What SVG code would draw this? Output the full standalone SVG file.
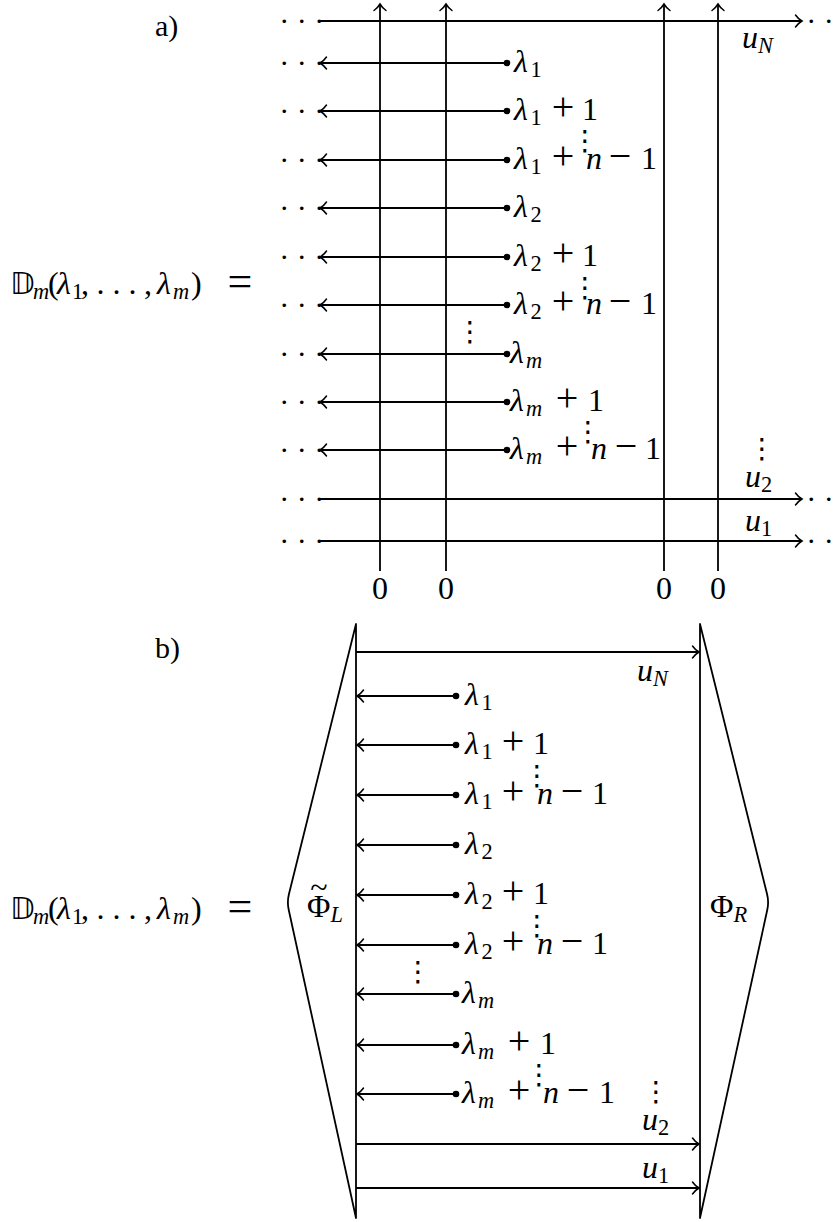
<svg xmlns="http://www.w3.org/2000/svg" width="840" height="1222" viewBox="0 0 840 1222" font-family="'Liberation Serif', 'Times New Roman', Times, serif">
<style>
.ln{stroke:#000;stroke-width:1.8;fill:none}
.br{stroke:#000;stroke-width:1.8;fill:none;stroke-linejoin:round}
.m{font-family:'Liberation Serif','Times New Roman',Times,serif;font-size:32px;fill:#000}
.i{font-style:italic}
.s{font-size:22.4px}
.op{font-size:40px}
.bb{font-family:'DejaVu Sans',sans-serif;font-size:30px;font-style:normal}
.hd{font-family:'Liberation Serif','Times New Roman',serif;font-size:30px;fill:#000}
.vd{font-family:'DejaVu Sans',sans-serif;font-size:28px;fill:#000;text-anchor:middle}
.z{text-anchor:middle}
.lab{font-family:'Liberation Serif','Times New Roman',serif;font-size:30px;fill:#000}
</style>
<defs>
<marker id="ah" viewBox="-8 -7 10 14" refX="0" refY="0" markerWidth="10" markerHeight="14" markerUnits="userSpaceOnUse" orient="auto" overflow="visible">
<path d="M-6.5,-6 C-4.5,-3 -1.5,-0.9 0,0 C-1.5,0.9 -4.5,3 -6.5,6" fill="none" stroke="#000" stroke-width="1.5" stroke-linecap="round"/>
</marker>
</defs>
<rect width="840" height="1222" fill="#fff"/>

<!-- ===== Panel a ===== -->
<g id="panel-a">
<g id="a-title"><text class="lab" x="155" y="36">a)</text></g>
<g id="a-equation"><text class="m" y="294"><tspan class="bb" x="10">𝔻</tspan><tspan class="i s" x="33" dy="5">m</tspan><tspan x="48" dy="-5">(</tspan><tspan class="i" x="57">λ</tspan><tspan class="s" x="72" dy="5">1</tspan><tspan x="81" dy="-5">,</tspan><tspan x="96.5">. . .</tspan><tspan x="144">,</tspan><tspan class="i" x="157">λ</tspan><tspan class="i s" x="173" dy="5">m</tspan><tspan x="191" dy="-5">)</tspan><tspan x="227.6" y="296" font-size="44">=</tspan></text></g>

<g id="a-connectors">
<line class="ln" x1="380" y1="571" x2="380" y2="4" marker-end="url(#ah)"/>
<line class="ln" x1="446" y1="571" x2="446" y2="4" marker-end="url(#ah)"/>
<line class="ln" x1="664" y1="571" x2="664" y2="4" marker-end="url(#ah)"/>
<line class="ln" x1="718" y1="571" x2="718" y2="4" marker-end="url(#ah)"/>
<line class="ln" x1="320" y1="21" x2="802" y2="21" marker-end="url(#ah)"/>
<line class="ln" x1="320" y1="499" x2="802" y2="499" marker-end="url(#ah)"/>
<line class="ln" x1="320" y1="541" x2="802" y2="541" marker-end="url(#ah)"/>
<line class="ln" x1="507" y1="63" x2="320" y2="63" marker-end="url(#ah)"/>
<line class="ln" x1="507" y1="111" x2="320" y2="111" marker-end="url(#ah)"/>
<line class="ln" x1="507" y1="160" x2="320" y2="160" marker-end="url(#ah)"/>
<line class="ln" x1="507" y1="208" x2="320" y2="208" marker-end="url(#ah)"/>
<line class="ln" x1="507" y1="257" x2="320" y2="257" marker-end="url(#ah)"/>
<line class="ln" x1="507" y1="305" x2="320" y2="305" marker-end="url(#ah)"/>
<line class="ln" x1="507" y1="354" x2="320" y2="354" marker-end="url(#ah)"/>
<line class="ln" x1="507" y1="402" x2="320" y2="402" marker-end="url(#ah)"/>
<line class="ln" x1="507" y1="450" x2="320" y2="450" marker-end="url(#ah)"/>
<g fill="#000">
<circle cx="507" cy="63" r="3.3"/><circle cx="507" cy="111" r="3.3"/><circle cx="507" cy="160" r="3.3"/>
<circle cx="507" cy="208" r="3.3"/><circle cx="507" cy="257" r="3.3"/><circle cx="507" cy="305" r="3.3"/>
<circle cx="507" cy="354" r="3.3"/><circle cx="507" cy="402" r="3.3"/><circle cx="507" cy="450" r="3.3"/>
</g>
</g>

<g id="a-dots">
<text class="hd" x="279.25" y="30.5">· · ·</text>
<text class="hd" x="279.25" y="72.5">· · ·</text>
<text class="hd" x="279.25" y="120.5">· · ·</text>
<text class="hd" x="279.25" y="169.5">· · ·</text>
<text class="hd" x="279.25" y="217.5">· · ·</text>
<text class="hd" x="279.25" y="266.5">· · ·</text>
<text class="hd" x="279.25" y="314.5">· · ·</text>
<text class="hd" x="279.25" y="363.5">· · ·</text>
<text class="hd" x="279.25" y="411.5">· · ·</text>
<text class="hd" x="279.25" y="459.5">· · ·</text>
<text class="hd" x="279.25" y="508.5">· · ·</text>
<text class="hd" x="279.25" y="550.5">· · ·</text>
<text class="hd" x="806.25" y="30.5">· · ·</text>
<text class="hd" x="806.25" y="508.5">· · ·</text>
<text class="hd" x="806.25" y="550.5">· · ·</text>
<text class="vd" x="585" y="150">⋮</text>
<text class="vd" x="585" y="297">⋮</text>
<text class="vd" x="588" y="441">⋮</text>
<text class="vd" x="470" y="341">⋮</text>
<text class="vd" x="762" y="458">⋮</text>
</g>

<g id="a-labels">
<text class="m" y="72"><tspan class="i" x="514">λ</tspan><tspan class="s" x="530.4" dy="5">1</tspan></text>
<text class="m" y="120"><tspan class="i" x="514">λ</tspan><tspan class="s" x="530.4" dy="5">1</tspan><tspan class="op" x="551.7" dy="-5">+</tspan><tspan x="582">1</tspan></text>
<text class="m" y="169"><tspan class="i" x="514">λ</tspan><tspan class="s" x="530.4" dy="5">1</tspan><tspan class="op" x="551.7" dy="-5">+</tspan><tspan class="i" x="586">n</tspan><tspan class="op" x="608.7">−</tspan><tspan x="641">1</tspan></text>
<text class="m" y="217"><tspan class="i" x="514">λ</tspan><tspan class="s" x="530.4" dy="5">2</tspan></text>
<text class="m" y="266"><tspan class="i" x="514">λ</tspan><tspan class="s" x="530.4" dy="5">2</tspan><tspan class="op" x="551.7" dy="-5">+</tspan><tspan x="582">1</tspan></text>
<text class="m" y="314"><tspan class="i" x="514">λ</tspan><tspan class="s" x="530.4" dy="5">2</tspan><tspan class="op" x="551.7" dy="-5">+</tspan><tspan class="i" x="586">n</tspan><tspan class="op" x="608.7">−</tspan><tspan x="641">1</tspan></text>
<text class="m" y="363"><tspan class="i" x="510">λ</tspan><tspan class="i s" x="526" dy="5">m</tspan></text>
<text class="m" y="411"><tspan class="i" x="510">λ</tspan><tspan class="i s" x="526" dy="5">m</tspan><tspan class="op" x="555.7" dy="-5">+</tspan><tspan x="588">1</tspan></text>
<text class="m" y="459"><tspan class="i" x="510">λ</tspan><tspan class="i s" x="526" dy="5">m</tspan><tspan class="op" x="555.7" dy="-5">+</tspan><tspan class="i" x="591">n</tspan><tspan class="op" x="614.7">−</tspan><tspan x="645">1</tspan></text>
<text class="m" x="742" y="48"><tspan class="i">u</tspan><tspan class="i s" dy="5">N</tspan></text>
<text class="m" x="745" y="487"><tspan class="i">u</tspan><tspan class="s" dy="5">2</tspan></text>
<text class="m" x="745" y="531"><tspan class="i">u</tspan><tspan class="s" dy="5">1</tspan></text>
<text class="m z" x="380" y="599">0</text>
<text class="m z" x="446" y="599">0</text>
<text class="m z" x="664" y="599">0</text>
<text class="m z" x="718" y="599">0</text>
</g>
</g>

<!-- ===== Panel b ===== -->
<g id="panel-b">
<g id="b-title"><text class="lab" x="155" y="658">b)</text></g>
<g id="b-equation"><text class="m" y="919"><tspan class="bb" x="10">𝔻</tspan><tspan class="i s" x="33" dy="5">m</tspan><tspan x="48" dy="-5">(</tspan><tspan class="i" x="57">λ</tspan><tspan class="s" x="72" dy="5">1</tspan><tspan x="81" dy="-5">,</tspan><tspan x="96.5">. . .</tspan><tspan x="144">,</tspan><tspan class="i" x="157">λ</tspan><tspan class="i s" x="173" dy="5">m</tspan><tspan x="191" dy="-5">)</tspan><tspan x="227.6" y="921" font-size="44">=</tspan></text></g>

<g id="phi-L">
<path class="br" d="M356,1218 L356,624 L288.9,894.2 Q287,902 288.7,909.8 Z"/>
<text class="m" x="319" y="898" text-anchor="middle" font-size="26">~</text>
<text class="m" x="307" y="917">Φ<tspan class="i s" dy="5">L</tspan></text>
</g>
<g id="phi-R">
<path class="br" d="M700,1218 L700,624 L767.1,894.2 Q769,902 767.3,909.8 Z"/>
<text class="m" x="710" y="917">Φ<tspan class="i s" dy="5">R</tspan></text>
</g>

<g id="b-connectors">
<line class="ln" x1="356" y1="652" x2="699" y2="652" marker-end="url(#ah)"/>
<line class="ln" x1="356" y1="1144" x2="699" y2="1144" marker-end="url(#ah)"/>
<line class="ln" x1="356" y1="1188" x2="699" y2="1188" marker-end="url(#ah)"/>
<line class="ln" x1="456" y1="696" x2="357" y2="696" marker-end="url(#ah)"/>
<line class="ln" x1="456" y1="745" x2="357" y2="745" marker-end="url(#ah)"/>
<line class="ln" x1="456" y1="795" x2="357" y2="795" marker-end="url(#ah)"/>
<line class="ln" x1="456" y1="845" x2="357" y2="845" marker-end="url(#ah)"/>
<line class="ln" x1="456" y1="895" x2="357" y2="895" marker-end="url(#ah)"/>
<line class="ln" x1="456" y1="945" x2="357" y2="945" marker-end="url(#ah)"/>
<line class="ln" x1="456" y1="994" x2="357" y2="994" marker-end="url(#ah)"/>
<line class="ln" x1="456" y1="1045" x2="357" y2="1045" marker-end="url(#ah)"/>
<line class="ln" x1="456" y1="1094" x2="357" y2="1094" marker-end="url(#ah)"/>
<g fill="#000">
<circle cx="456" cy="696" r="3.3"/><circle cx="456" cy="745" r="3.3"/><circle cx="456" cy="795" r="3.3"/>
<circle cx="456" cy="845" r="3.3"/><circle cx="456" cy="895" r="3.3"/><circle cx="456" cy="945" r="3.3"/>
<circle cx="456" cy="994" r="3.3"/><circle cx="456" cy="1045" r="3.3"/><circle cx="456" cy="1094" r="3.3"/>
</g>
</g>

<g id="b-dots">
<text class="vd" x="537" y="785">⋮</text>
<text class="vd" x="537" y="935">⋮</text>
<text class="vd" x="539" y="1084">⋮</text>
<text class="vd" x="418" y="981">⋮</text>
<text class="vd" x="656" y="1101">⋮</text>
</g>

<g id="b-labels">
<text class="m" y="705"><tspan class="i" x="465">λ</tspan><tspan class="s" x="481.4" dy="5">1</tspan></text>
<text class="m" y="754"><tspan class="i" x="465">λ</tspan><tspan class="s" x="481.4" dy="5">1</tspan><tspan class="op" x="501.7" dy="-5">+</tspan><tspan x="533">1</tspan></text>
<text class="m" y="804"><tspan class="i" x="465">λ</tspan><tspan class="s" x="481.4" dy="5">1</tspan><tspan class="op" x="501.7" dy="-5">+</tspan><tspan class="i" x="537">n</tspan><tspan class="op" x="560.7">−</tspan><tspan x="592">1</tspan></text>
<text class="m" y="854"><tspan class="i" x="465">λ</tspan><tspan class="s" x="481.4" dy="5">2</tspan></text>
<text class="m" y="904"><tspan class="i" x="465">λ</tspan><tspan class="s" x="481.4" dy="5">2</tspan><tspan class="op" x="501.7" dy="-5">+</tspan><tspan x="533">1</tspan></text>
<text class="m" y="954"><tspan class="i" x="465">λ</tspan><tspan class="s" x="481.4" dy="5">2</tspan><tspan class="op" x="501.7" dy="-5">+</tspan><tspan class="i" x="537">n</tspan><tspan class="op" x="560.7">−</tspan><tspan x="592">1</tspan></text>
<text class="m" y="1003"><tspan class="i" x="462">λ</tspan><tspan class="i s" x="478" dy="5">m</tspan></text>
<text class="m" y="1054"><tspan class="i" x="462">λ</tspan><tspan class="i s" x="478" dy="5">m</tspan><tspan class="op" x="507.7" dy="-5">+</tspan><tspan x="540">1</tspan></text>
<text class="m" y="1103"><tspan class="i" x="462">λ</tspan><tspan class="i s" x="478" dy="5">m</tspan><tspan class="op" x="507.7" dy="-5">+</tspan><tspan class="i" x="543">n</tspan><tspan class="op" x="566.7">−</tspan><tspan x="599">1</tspan></text>
<text class="m" x="637" y="681"><tspan class="i">u</tspan><tspan class="i s" dy="5">N</tspan></text>
<text class="m" x="642" y="1130"><tspan class="i">u</tspan><tspan class="s" dy="5">2</tspan></text>
<text class="m" x="642" y="1178"><tspan class="i">u</tspan><tspan class="s" dy="5">1</tspan></text>
</g>
</g>
</svg>
